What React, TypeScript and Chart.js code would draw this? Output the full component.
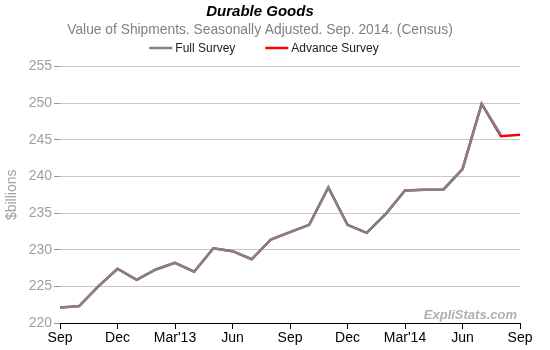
import React, { useEffect, useRef } from "react";
import { Chart, registerables } from "chart.js";

Chart.register(...registerables);

const months = [
  "Sep", "Oct", "Nov", "Dec", "Jan'13", "Feb", "Mar'13", "Apr", "May", "Jun", "Jul", "Aug",
  "Sep", "Oct", "Nov", "Dec", "Jan'14", "Feb", "Mar'14", "Apr", "May", "Jun", "Jul", "Aug", "Sep",
];
const tickLabels = ["Sep", "", "", "Dec", "", "", "Mar'13", "", "", "Jun", "", "", "Sep", "", "", "Dec", "", "", "Mar'14", "", "", "Jun", "", "", "Sep"];

const fullSurvey = [
  222.1, 222.3, 225.0, 227.4, 225.9, 227.3, 228.2, 227.0, 230.2, 229.8, 228.7, 231.4,
  232.4, 233.4, 238.5, 233.4, 232.3, 234.9, 238.1, 238.2, 238.2, 241.0, 249.9, 245.7, null,
];
const advanceSurvey = [
  222.1, 222.3, 225.0, 227.4, 225.9, 227.3, 228.2, 227.0, 230.2, 229.8, 228.7, 231.4,
  232.4, 233.4, 238.5, 233.4, 232.3, 234.9, 238.1, 238.2, 238.2, 241.0, 249.9, 245.5, 245.7,
];

const FONT = "'Liberation Sans', Arial, sans-serif";

const watermark = {
  id: "watermark",
  afterDraw(chart: any) {
    const { ctx, chartArea } = chart;
    ctx.save();
    ctx.font = `bold italic 13px ${FONT}`;
    ctx.fillStyle = "#b0b0b0";
    ctx.textAlign = "right";
    ctx.textBaseline = "alphabetic";
    ctx.fillText("ExpliStats.com", chartArea.right - 3, chartArea.bottom - 4);
    ctx.restore();
  },
};

const customLegend = {
  id: "customLegend",
  afterDraw(chart: any) {
    const { ctx } = chart;
    const ds = chart.data.datasets;
    ctx.save();
    ctx.font = `12px ${FONT}`;
    ctx.textBaseline = "middle";
    const lineW = 23;
    const gapText = 3;
    const gapItems = 30;
    const widths = ds.map((d: any) => lineW + gapText + ctx.measureText(d.label).width);
    const total = widths.reduce((a: number, b: number) => a + b, 0) + gapItems * (ds.length - 1);
    let x = 264 - total / 2;
    const y = 48;
    ds.forEach((d: any, i: number) => {
      ctx.strokeStyle = d.borderColor;
      ctx.lineWidth = 2.5;
      ctx.beginPath();
      ctx.moveTo(x, y);
      ctx.lineTo(x + lineW, y);
      ctx.stroke();
      ctx.fillStyle = "#222";
      ctx.textAlign = "left";
      ctx.fillText(d.label, x + lineW + gapText, y + 1);
      x += widths[i] + gapItems;
    });
    ctx.restore();
  },
};

export default function App() {
  const ref = useRef<HTMLCanvasElement>(null);
  useEffect(() => {
    const chart = new Chart(ref.current!, {
      type: "line",
      data: {
        labels: months,
        datasets: [
          {
            label: "Full Survey",
            data: fullSurvey,
            borderColor: "#7a8494",
            backgroundColor: "#7a8494",
            borderWidth: 2.5,
            pointRadius: 0,
            tension: 0,
          },
          {
            label: "Advance Survey",
            data: advanceSurvey,
            borderColor: "#ff0000",
            backgroundColor: "#ff0000",
            borderWidth: 2.5,
            pointRadius: 0,
            tension: 0,
          },
        ],
      },
      options: {
        animation: false,
        responsive: false,
        layout: { padding: { left: 0, right: 30, top: 0, bottom: 0 } },
        plugins: {
          title: {
            display: true,
            text: "Durable Goods",
            color: "#000",
            font: { family: FONT, size: 15, weight: "bold", style: "italic" },
            padding: { top: 3, bottom: 1 },
          },
          subtitle: {
            display: true,
            text: "Value of Shipments. Seasonally Adjusted. Sep. 2014. (Census)",
            color: "#808080",
            font: { family: FONT, size: 13.8 },
            padding: { top: 0, bottom: 28 },
          },
          legend: { display: false },
          tooltip: { enabled: false },
        },
        scales: {
          x: {
            type: "category",
            offset: false,
            border: { display: true, color: "#000", width: 1 },
            grid: {
              drawOnChartArea: false,
              drawTicks: true,
              tickLength: 6,
              tickColor: (ctx: any) => (tickLabels[ctx.index] ? "#000" : "rgba(0,0,0,0)"),
            },
            ticks: {
              autoSkip: false,
              maxRotation: 0,
              color: "#000",
              font: { family: FONT, size: 14 },
              padding: 1,
              callback: (_v: any, i: number) => tickLabels[i],
            },
            afterFit: (s: any) => {
              s.height = 27;
            },
          },
          y: {
            min: 220,
            max: 255,
            border: { display: false },
            grid: { color: "#c8c8c8", tickLength: 6, tickColor: "#999" },
            ticks: {
              stepSize: 5,
              color: "#a0a0a0",
              font: { family: FONT, size: 14 },
              padding: 2,
            },
            title: {
              display: true,
              text: "$billions",
              color: "#a0a0a0",
              font: { family: FONT, size: 14 },
              padding: { top: 4, bottom: 0 },
            },
            afterFit: (s: any) => {
              s.width = 60;
            },
          },
        },
      },
      plugins: [watermark, customLegend],
    });
    return () => chart.destroy();
  }, []);
  return (
    <div style={{ position: "fixed", left: 0, top: 0, width: 550, height: 350, background: "#fff" }}>
      <canvas ref={ref} width={550} height={350} />
    </div>
  );
}
